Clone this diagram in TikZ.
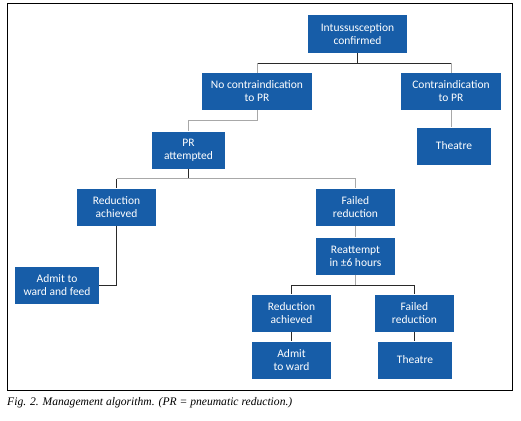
\documentclass[tikz,border=0pt]{standalone}
\usepackage{fontspec}
\setsansfont{Carlito}
\setmainfont{Liberation Serif}
\usetikzlibrary{positioning, calc}
\definecolor{MAblue}{HTML}{175DA8}
\definecolor{MAline}{HTML}{2A2A2A}
\definecolor{MAgrey}{HTML}{A8A8A8}
\tikzset{
  mabox/.style={
    rectangle, fill=MAblue, text=white, align=center, inner sep=2pt,
    minimum width=79pt, minimum height=37pt,
    font=\sffamily\fontsize{11.5}{13}\selectfont},
  malink/.style={draw=MAline, line width=0.7pt},
  malinkg/.style={draw=MAgrey, line width=0.9pt},
}
\begin{document}
\begin{tikzpicture}[x=1pt, y=-1pt]
  \useasboundingbox (0,0) rectangle (521,420);
  \draw[line width=0.8pt] (7,3.5) rectangle (512,390.5);
  % boxes
  \node[mabox, minimum width=99pt] (conf) at (357.5,34) {Intussusception\\confirmed};
  \node[mabox, minimum width=110pt] (nocon) at (257,91.5) {No contraindication\\to PR};
  \node[mabox, minimum width=100pt] (con) at (451,91.5) {Contraindication\\to PR};
  \node[mabox, minimum width=74pt] (theat) at (454,146) {Theatre};
  \node[mabox, minimum width=73pt] (pr) at (188.5,150) {PR\\attempted};
  \node[mabox] (red) at (116.5,207) {Reduction\\achieved};
  \node[mabox] (fail) at (355.5,207) {Failed\\reduction};
  \node[mabox] (reat) at (355.5,256) {Reattempt\\in ±6 hours};
  \node[mabox, minimum width=84pt] (feed) at (57,285) {Admit to\\ward and feed};
  \node[mabox] (redb) at (291.5,313) {Reduction\\achieved};
  \node[mabox] (failb) at (414.5,313) {Failed\\reduction};
  \node[mabox] (ward) at (291.5,360) {Admit\\to ward};
  \node[mabox, minimum width=74pt] (theatb) at (415,360) {Theatre};
  % links
  \draw[malink] (conf.south) -- ++(0,10.7) coordinate (c1);
  \draw[malink] (nocon.north |- c1) -- (con.north |- c1);
  \draw[malinkg] (nocon.north |- c1) -- (nocon.north);
  \draw[malinkg] (con.north |- c1) -- (con.north);
  \draw[malinkg] (nocon.south) -- ++(0,10.7) -| (pr.north);
  \draw[malinkg] (con.south) -- (con.south |- theat.north);
  \draw[malink] (pr.south) -- ++(0,10) coordinate (c2);
  \draw[malinkg] (red.north |- c2) -- (fail.north |- c2);
  \draw[malink] (red.north |- c2) -- (red.north);
  \draw[malinkg] (fail.north |- c2) -- (fail.north);
  \draw[malink] (red.south) |- (feed.east);
  \draw[malinkg] (fail.south) -- (reat.north);
  \draw[malinkg] (reat.south) -- ++(0,10.6) coordinate (c3);
  \draw[malink] (redb.north |- c3) -- (redb.north);
  \draw[malink] (redb.north |- c3) -- (failb.north |- c3) -- (failb.north);
  \draw[malink] (redb.south) -- (ward.north);
  \draw[malink] (failb.south) -- (failb.south |- theatb.north);
  % caption
  \node[anchor=west, inner sep=0pt, font=\itshape\fontsize{11.6}{13}\selectfont] (cap) at (7,403)
    {Fig. 2. Management algorithm. (PR = pneumatic reduction.)};
\end{tikzpicture}
\end{document}
